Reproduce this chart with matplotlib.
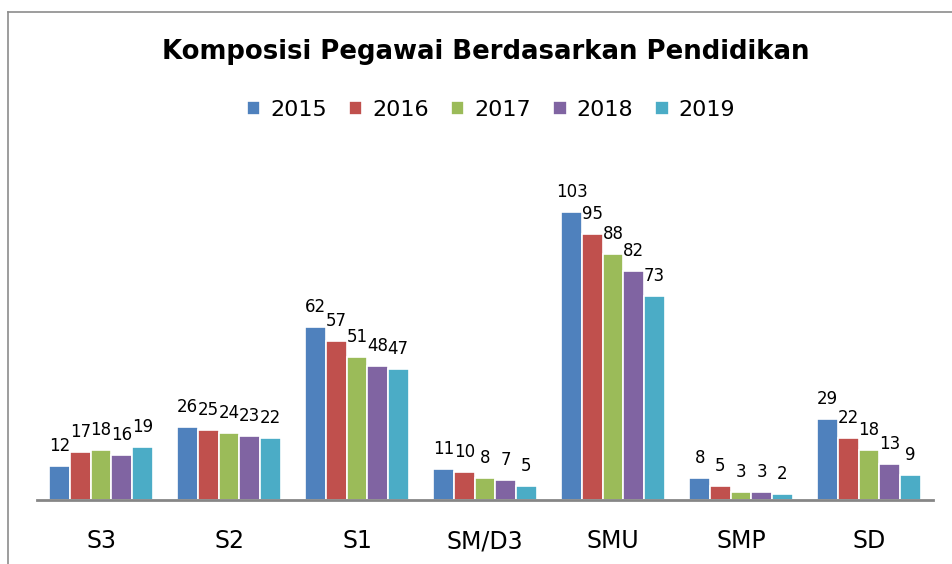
import numpy as np
import matplotlib
matplotlib.use("Agg")
import matplotlib.pyplot as plt
from matplotlib.lines import Line2D

# data
categories = ["S3", "S2", "S1", "SM/D3", "SMU", "SMP", "SD"]
years = ["2015", "2016", "2017", "2018", "2019"]
v2015 = [12, 26, 62, 11, 103, 8, 29]
v2016 = [17, 25, 57, 10, 95, 5, 22]
v2017 = [18, 24, 51, 8, 88, 3, 18]
v2018 = [16, 23, 48, 7, 82, 3, 13]
v2019 = [19, 22, 47, 5, 73, 2, 9]
series = [v2015, v2016, v2017, v2018, v2019]
colors = ["#4F81BD", "#C0504D", "#9BBB59", "#8064A2", "#4BACC6"]

plt.rcParams["font.family"] = ["DejaVu Sans"]

W, H = 952, 564
fig = plt.figure(figsize=(W / 100, H / 100), dpi=100)

# plot area in pixels: x 37..933, baseline at y=500
ymax = 120
px_per_unit = 288 / 103
top_px = 500 - ymax * px_per_unit
ax = fig.add_axes([37 / W, (H - 500) / H, (933 - 37) / W, (500 - top_px) / H])

x = np.arange(len(categories))
bw = 0.161
for i, (vals, c, yr) in enumerate(zip(series, colors, years)):
    pos = x + (i - 2) * bw
    bars = ax.bar(pos, vals, width=bw, color=c, edgecolor="white",
                  linewidth=1.2, label=yr)
    for b, v in zip(bars, vals):
        ax.annotate(str(v), (b.get_x() + b.get_width() / 2, v),
                    xytext=(0, 10.8), textcoords="offset points",
                    ha="center", va="baseline", fontsize=12)

ax.set_xlim(-0.5, len(categories) - 0.5)
ax.set_ylim(0, ymax)
ax.set_yticks([])
ax.set_xticks(x)
ax.set_xticklabels(categories, fontsize=17)
ax.tick_params(axis="x", length=0, pad=21)
for s in ["top", "right", "left"]:
    ax.spines[s].set_visible(False)
ax.spines["bottom"].set_color("#868686")
ax.spines["bottom"].set_linewidth(2)

fig.text(486 / W, 1 - 52 / H, "Komposisi Pegawai Berdasarkan Pendidikan",
         ha="center", va="center", fontsize=18.7, fontweight="bold")

fig.legend(loc="center", bbox_to_anchor=(491 / W, 1 - 110 / H), ncol=5,
           frameon=False, fontsize=16, handlelength=0.6, handleheight=0.6,
           handletextpad=0.45, columnspacing=1.0)

# outer chart frame (only top and left visible in the crop)
fig.add_artist(Line2D([8 / W, 8 / W], [0, 1 - 12 / H], transform=fig.transFigure,
                      color="#8c8c8c", linewidth=1.2))
fig.add_artist(Line2D([8 / W, 1], [1 - 12 / H, 1 - 12 / H], transform=fig.transFigure,
                      color="#8c8c8c", linewidth=1.2))

fig.savefig("out.png", dpi=100)
